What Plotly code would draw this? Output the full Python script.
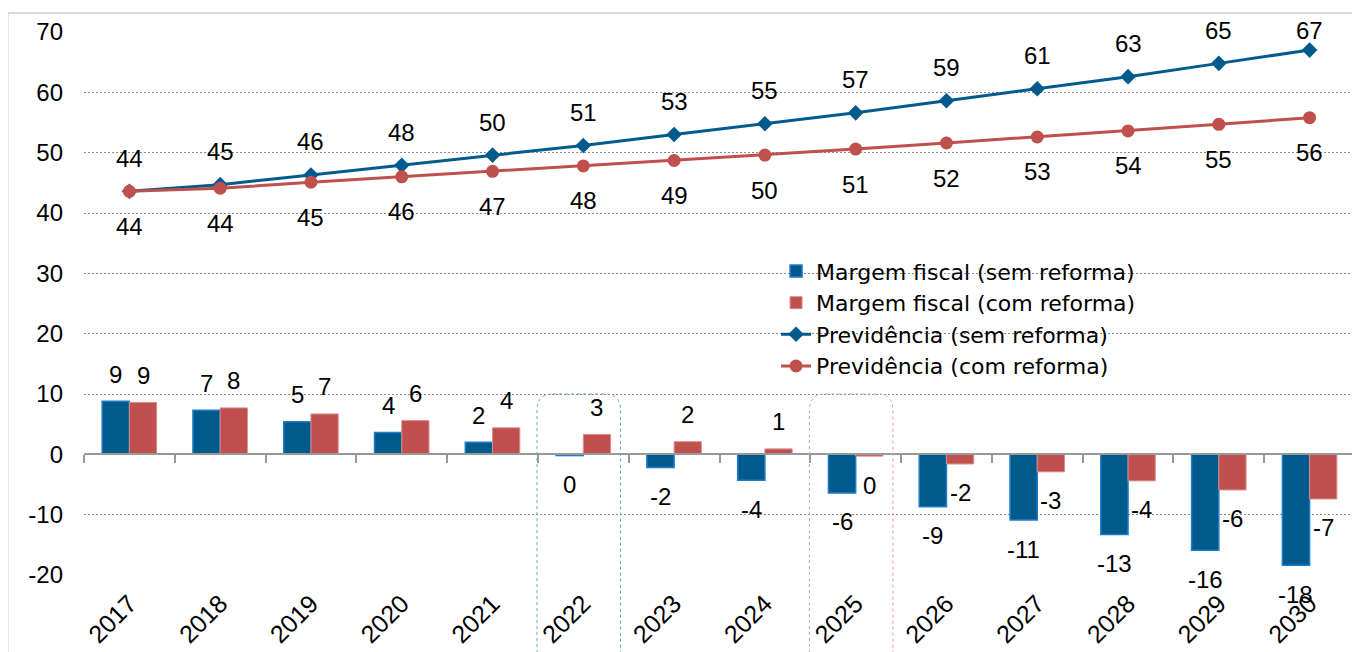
import plotly.graph_objects as go

# categories and series values
years = ["2017", "2018", "2019", "2020", "2021", "2022", "2023",
         "2024", "2025", "2026", "2027", "2028", "2029", "2030"]
margem_sem = [8.8, 7.3, 5.4, 3.6, 2.0, -0.2, -2.2, -4.3, -6.4, -8.7, -10.9, -13.3, -15.9, -18.4]
margem_com = [8.6, 7.7, 6.7, 5.6, 4.4, 3.3, 2.1, 0.9, -0.3, -1.6, -2.9, -4.4, -5.9, -7.4]
prev_sem = [43.6, 44.7, 46.3, 47.9, 49.6, 51.2, 53.0, 54.8, 56.6, 58.6, 60.6, 62.6, 64.8, 67.0]
prev_com = [43.6, 44.1, 45.1, 46.0, 46.9, 47.8, 48.7, 49.6, 50.6, 51.6, 52.6, 53.6, 54.7, 55.8]
y_ticks = [-20, -10, 0, 10, 20, 30, 40, 50, 60, 70]
highlight_years = ["2022", "2025"]

BLUE = "#005B8C"
RED = "#C0504D"
LABEL_FONT = "Liberation Sans, Arial, sans-serif"

Y_MIN, Y_MAX = -20, 70
PLOT_W = 1271
PLOT_H = 543  # pixel height of the plot area
PX = PLOT_H / (Y_MAX - Y_MIN)  # pixels per unit


def lbl(v):
    return f"{round(v):d}"


def rounded_box(x0, x1, y0, y1, rx, ry):
    return (f"M {x0 + rx},{y1} L {x1 - rx},{y1} Q {x1},{y1} {x1},{y1 - ry} "
            f"L {x1},{y0 + ry} Q {x1},{y0} {x1 - rx},{y0} L {x0 + rx},{y0} "
            f"Q {x0},{y0} {x0},{y0 + ry} L {x0},{y1 - ry} Q {x0},{y1} {x0 + rx},{y1} Z")


def main():
    fig = go.Figure()

    # bars on x2 so that the free axis at zero carries the category ticks
    fig.add_trace(go.Bar(
        x=years, y=margem_sem, name="Margem fiscal (sem reforma)",
        marker=dict(color=BLUE, line=dict(color="#1F7BC9", width=1.5)),
        xaxis="x2", yaxis="y",
    ))
    fig.add_trace(go.Bar(
        x=years, y=margem_com, name="Margem fiscal (com reforma)",
        marker=dict(color=RED, line=dict(color="#D98E8C", width=1)),
        xaxis="x2", yaxis="y",
    ))
    fig.add_trace(go.Scatter(
        x=years, y=prev_sem, name="Previdência (sem reforma)", mode="lines+markers",
        line=dict(color=BLUE, width=3),
        marker=dict(symbol="diamond", size=12, color=BLUE),
    ))
    fig.add_trace(go.Scatter(
        x=years, y=prev_com, name="Previdência (com reforma)", mode="lines+markers",
        line=dict(color=RED, width=3),
        marker=dict(symbol="circle", size=13, color=RED),
    ))

    # annotations on a category axis take the category's serial number as x
    annotations = []
    lab_font = dict(family=LABEL_FONT, size=24, color="black")
    # line labels: above for "sem reforma" (kept inside the plot), below for "com reforma"
    for i, v in enumerate(prev_sem):
        annotations.append(dict(
            x=i, y=v, xref="x", yref="y", text=lbl(v), showarrow=False,
            yshift=min(33, (Y_MAX + 0.3 - v) * PX), font=lab_font,
        ))
    for i, v in enumerate(prev_com):
        annotations.append(dict(
            x=i, y=v, xref="x", yref="y", text=lbl(v), showarrow=False,
            yshift=-35, font=lab_font,
        ))
    # bar value labels, outside the bar end
    half_bar = 0.6 / 4
    for vals, dx in ((margem_sem, -half_bar), (margem_com, half_bar)):
        for i, v in enumerate(vals):
            annotations.append(dict(
                x=i + dx, y=v, xref="x", yref="y", text=lbl(v), showarrow=False,
                yshift=27 if v >= 0 else -29, font=lab_font,
            ))

    shapes = []
    # light outer frame of the original chart
    shapes.append(dict(type="rect", xref="paper", yref="paper",
                       x0=-0.06, x1=1.05, y0=-0.3, y1=1.035,
                       line=dict(color="#D0D0D0", width=1.5), layer="below"))
    # rounded dotted boxes around the highlighted years
    n = len(years)
    box_colors = {"2022": "#5BA8C8", "2025": "#E59A9A"}
    top = (10 - Y_MIN) / (Y_MAX - Y_MIN)
    for yr in highlight_years:
        i = years.index(yr)
        x0 = (i - 0.01) / n
        x1 = (i + 0.91) / n
        shapes.append(dict(
            type="path", xref="paper", yref="paper",
            path=rounded_box(x0, x1, -0.17, top, 16 / PLOT_W, 16 / PLOT_H),
            line=dict(color=box_colors[yr], width=1, dash="dot"),
        ))

    fig.update_layout(
        # page body has an 8px margin, so the figure is 8px smaller each way
        width=1352, height=644,
        margin=dict(l=76, r=5, t=24, b=77),
        paper_bgcolor="white", plot_bgcolor="white",
        barmode="group", bargap=0.4, bargroupgap=0,
        showlegend=True,
        legend=dict(
            x=0.5445, y=0.598, xanchor="left", yanchor="top",
            bgcolor="rgba(0,0,0,0)", tracegroupgap=0,
            font=dict(family="DejaVu Sans", size=22, color="black"),
        ),
        xaxis=dict(
            type="category", categoryorder="array", categoryarray=years,
            range=[-0.5, len(years) - 0.5],
            showgrid=False, showline=False, zeroline=False, ticks="",
            tickangle=-45, ticklabelstandoff=8,
            tickfont=dict(family=LABEL_FONT, size=25, color="black"),
        ),
        xaxis2=dict(
            type="category", categoryorder="array", categoryarray=years,
            range=[-0.5, len(years) - 0.5],
            overlaying="x", anchor="free",
            position=(0 - Y_MIN) / (Y_MAX - Y_MIN),
            showgrid=False, zeroline=False, showticklabels=False,
            showline=True, linecolor="#999999", linewidth=2,
            ticks="outside", tickson="boundaries", ticklen=8, tickwidth=2,
            tickcolor="#999999",
        ),
        yaxis=dict(
            range=[Y_MIN, Y_MAX],
            tickvals=y_ticks, ticktext=[str(t) for t in y_ticks],
            showgrid=True, gridcolor="#8A8A8A", griddash="2px,2px", gridwidth=1,
            zeroline=False, showline=False,
            ticklabelstandoff=20,
            tickfont=dict(family=LABEL_FONT, size=24, color="black"),
        ),
        annotations=annotations,
        shapes=shapes,
    )

    fig.write_html("out.html")


if __name__ == "__main__":
    main()
